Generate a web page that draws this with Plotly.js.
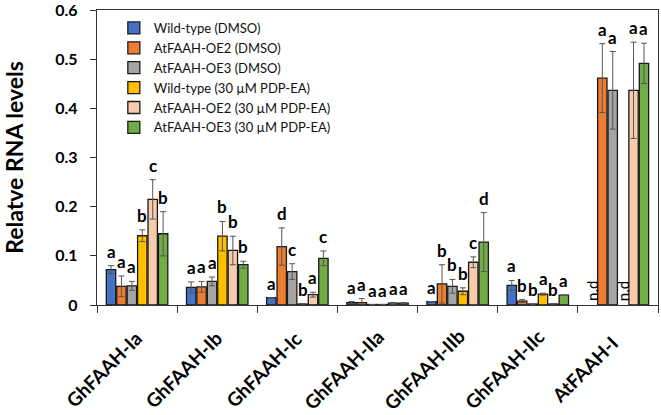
<!DOCTYPE html>
<html>
<head>
<meta charset="utf-8">
<script src="https://cdn.plot.ly/plotly-3.0.1.min.js"></script>
<style>html,body{margin:0;padding:0;background:#fff;}#chart{width:661px;height:415px;}</style>
</head>
<body>
<div id="chart"></div>
<script>
var categories = ['GhFAAH-Ia','GhFAAH-Ib','GhFAAH-Ic','GhFAAH-IIa','GhFAAH-IIb','GhFAAH-IIc','AtFAAH-I'];
var seriesNames = ['Wild-type (DMSO)','AtFAAH-OE2 (DMSO)','AtFAAH-OE3 (DMSO)','Wild-type (30 \u00b5M PDP-EA)','AtFAAH-OE2 (30 \u00b5M PDP-EA)','AtFAAH-OE3 (30 \u00b5M PDP-EA)'];

var wtDmso      = [0.072, 0.036, 0.015, 0.005, 0.007, 0.040, null];
var wtDmsoErr   = [0.008, 0.011, 0.000, 0.002, 0.000, 0.010, 0];
var oe2Dmso     = [0.038, 0.037, 0.119, 0.005, 0.043, 0.008, 0.462];
var oe2DmsoErr  = [0.021, 0.011, 0.038, 0.008, 0.039, 0.003, 0.070];
var oe3Dmso     = [0.039, 0.048, 0.068, 0.001, 0.038, 0.002, 0.437];
var oe3DmsoErr  = [0.009, 0.009, 0.016, 0.000, 0.014, 0.000, 0.079];
var wtPdp       = [0.141, 0.140, 0.002, 0.001, 0.028, 0.022, null];
var wtPdpErr    = [0.012, 0.030, 0.000, 0.000, 0.007, 0.002, 0];
var oe2Pdp      = [0.215, 0.111, 0.021, 0.004, 0.087, 0.002, 0.437];
var oe2PdpErr   = [0.040, 0.029, 0.005, 0.001, 0.011, 0.000, 0.098];
var oe3Pdp      = [0.145, 0.082, 0.095, 0.004, 0.128, 0.020, 0.492];
var oe3PdpErr   = [0.045, 0.007, 0.015, 0.001, 0.060, 0.000, 0.041];

var wtDmsoLetters  = ['a','a','a','a','a','a','n.d'];
var oe2DmsoLetters = ['a','a','d','a','b','b','a'];
var oe3DmsoLetters = ['a','a','c','a','b','b','a'];
var wtPdpLetters   = ['b','b','b','a','b','a','n.d'];
var oe2PdpLetters  = ['c','b','a','a','c','b','a'];
var oe3PdpLetters  = ['b','b','c','a','d','a','a'];

var yTickVals  = [0, 0.1, 0.2, 0.3, 0.4, 0.5, 0.6];
var yTickTexts = ['0', '0.1', '0.2', '0.3', '0.4', '0.5', '0.6'];

var colors = ['#4472C4','#ED7D31','#A5A5A5','#FFC000','#F8CBAD','#70AD47'];

(function () {
  var values = [wtDmso, oe2Dmso, oe3Dmso, wtPdp, oe2Pdp, oe3Pdp];
  var errors = [wtDmsoErr, oe2DmsoErr, oe3DmsoErr, wtPdpErr, oe2PdpErr, oe3PdpErr];
  var letters = [wtDmsoLetters, oe2DmsoLetters, oe3DmsoLetters, wtPdpLetters, oe2PdpLetters, oe3PdpLetters];

  var FONT = 'Lato, sans-serif';
  var bargap = 0.22;

  var traces = values.map(function (v, k) {
    return {
      type: 'bar',
      name: seriesNames[k],
      legendgroup: 'g' + k,
      x: categories,
      y: v,
      marker: { color: colors[k], line: { color: '#1a1a1a', width: 1.3 } },
      error_y: { type: 'data', array: errors[k], visible: true, color: '#555555', thickness: 1, width: 3 }
    };
  });

  var annotations = [];
  var n = values.length;
  var slot = (1 - bargap) / n;
  for (var k = 0; k < n; k++) {
    var off = -(1 - bargap) / 2 + (k + 0.5) * slot;
    for (var i = 0; i < categories.length; i++) {
      var t = letters[k][i];
      if (t === 'n.d') {
        annotations.push({
          x: i + off, y: 0, xref: 'x', yref: 'y', text: 'n.d', showarrow: false,
          textangle: -90, xanchor: 'center', yanchor: 'bottom', yshift: 2,
          font: { family: FONT, size: 15, color: '#000' }
        });
      } else {
        var barTop = (values[k][i] || 0) + (errors[k][i] || 0);
        annotations.push({
          x: i + off, y: barTop, xref: 'x', yref: 'y', text: '<b>' + t + '</b>', showarrow: false,
          xanchor: 'center', yanchor: 'bottom', yshift: 2,
          font: { family: FONT, size: 17, color: '#000' }
        });
      }
    }
  }
  // category labels, rotated like the reference (centre-anchored)
  categories.forEach(function (c, i) {
    annotations.push({
      x: i, y: 0, xref: 'x', yref: 'y', text: '<b>' + c + '</b>', showarrow: false,
      textangle: -45, xanchor: 'center', yanchor: 'middle', xshift: -34, yshift: -64,
      font: { family: FONT, size: 19, color: '#000' }
    });
  });

  var layout = {
    width: 661, height: 415,
    margin: { l: 97, r: 3, t: 10, b: 110 },
    paper_bgcolor: '#fff', plot_bgcolor: '#fff',
    barmode: 'group', bargap: bargap, bargroupgap: 0.1,
    font: { family: FONT, color: '#000' },
    showlegend: true,
    legend: {
      x: 0.03, y: 0.99, xanchor: 'left', yanchor: 'top',
      bgcolor: 'rgba(0,0,0,0)', font: { family: FONT, size: 13, color: '#111' },
      traceorder: 'normal', tracegroupgap: 1.5
    },
    xaxis: {
      type: 'category', range: [-0.5, categories.length - 0.5], autorange: false,
      tickson: 'boundaries', ticks: 'outside', ticklen: 7, tickcolor: '#333',
      showline: true, linecolor: '#333', linewidth: 1.3, mirror: true,
      showticklabels: false,
      showgrid: false, zeroline: false
    },
    yaxis: {
      range: [0, 0.6005], autorange: false, tickmode: 'array', tickvals: yTickVals, ticktext: yTickTexts,
      ticks: 'outside', ticklen: 6, tickcolor: '#333',
      showline: true, linecolor: '#333', linewidth: 1.3, mirror: true,
      ticklabelstandoff: 9, ticklabeloverflow: 'allow',
      tickfont: { family: FONT, size: 16, color: '#000', weight: 700 },
      showgrid: false, zeroline: false,
      title: { text: '<b>Relatve RNA levels</b>', font: { family: FONT, size: 23, color: '#000' }, standoff: 25 }
    },
    annotations: annotations
  };

  Plotly.newPlot('chart', traces, layout, { displayModeBar: false, staticPlot: true });
})();
</script>
</body>
</html>
